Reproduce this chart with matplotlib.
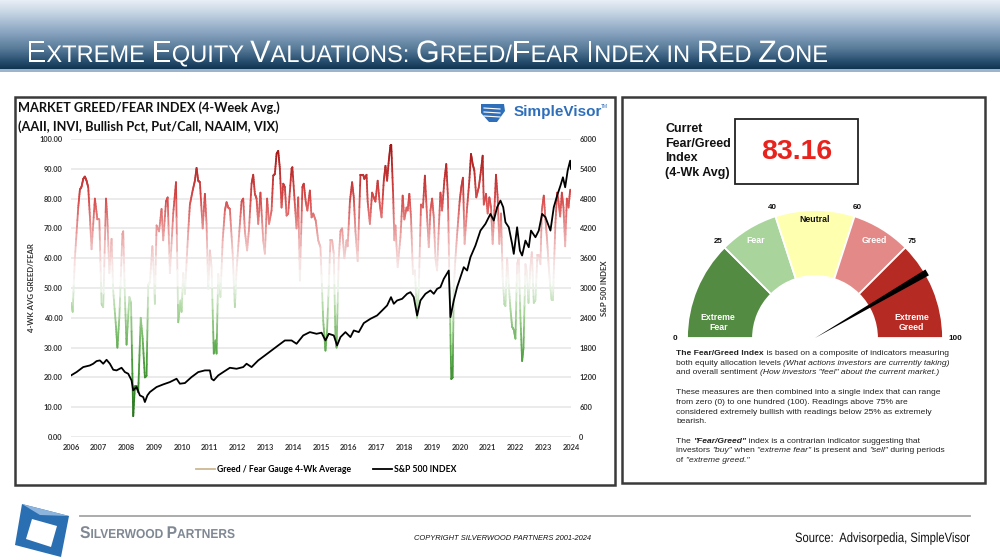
import numpy as np
import matplotlib
matplotlib.use("Agg")
import matplotlib.pyplot as plt
from matplotlib import font_manager
from matplotlib.collections import LineCollection
from matplotlib.colors import LinearSegmentedColormap, to_rgb
from matplotlib.font_manager import FontProperties
from matplotlib.lines import Line2D
from matplotlib.patches import Rectangle, Wedge, Polygon, PathPatch
from matplotlib.textpath import TextPath
from matplotlib.transforms import Affine2D

# ---- data ----
greed_year = [2006.02, 2006.06, 2006.14, 2006.26, 2006.32, 2006.38, 2006.44, 2006.50, 2006.56, 2006.62,
              2006.68, 2006.74, 2006.86, 2006.95, 2007.02, 2007.10, 2007.16, 2007.26, 2007.31, 2007.38,
              2007.46, 2007.52, 2007.62, 2007.67, 2007.74, 2007.85, 2007.88, 2007.94, 2008.00, 2008.10,
              2008.16, 2008.24, 2008.30, 2008.36, 2008.42, 2008.51, 2008.58, 2008.66, 2008.72, 2008.78,
              2008.84, 2008.93, 2008.99, 2009.02, 2009.08, 2009.17, 2009.26, 2009.32, 2009.42, 2009.48,
              2009.56, 2009.68, 2009.78, 2009.86, 2009.94, 2009.98, 2010.04, 2010.10, 2010.22, 2010.28,
              2010.38, 2010.46, 2010.52, 2010.58, 2010.64, 2010.74, 2010.82, 2010.88, 2010.94, 2011.00,
              2011.06, 2011.14, 2011.20, 2011.24, 2011.30, 2011.38, 2011.46, 2011.54, 2011.60, 2011.66,
              2011.72, 2011.82, 2011.90, 2011.96, 2012.06, 2012.14, 2012.20, 2012.26, 2012.34, 2012.41,
              2012.50, 2012.56, 2012.62, 2012.68, 2012.74, 2012.82, 2012.92, 2012.98, 2013.06, 2013.13,
              2013.22, 2013.28, 2013.34, 2013.40, 2013.46, 2013.52, 2013.58, 2013.64, 2013.70, 2013.76,
              2013.82, 2013.94, 2013.97, 2014.06, 2014.12, 2014.18, 2014.24, 2014.33, 2014.38, 2014.45,
              2014.51, 2014.60, 2014.66, 2014.72, 2014.81, 2014.90, 2014.98, 2015.08, 2015.16, 2015.22,
              2015.34, 2015.40, 2015.46, 2015.52, 2015.56, 2015.64, 2015.70, 2015.76, 2015.84, 2015.92,
              2015.96, 2016.04, 2016.12, 2016.18, 2016.24, 2016.32, 2016.42, 2016.52, 2016.56, 2016.64,
              2016.68, 2016.76, 2016.84, 2016.90, 2016.96, 2017.04, 2017.12, 2017.18, 2017.26, 2017.32,
              2017.38, 2017.44, 2017.50, 2017.53, 2017.60, 2017.64, 2017.68, 2017.76, 2017.86, 2017.94,
              2018.00, 2018.08, 2018.12, 2018.18, 2018.24, 2018.31, 2018.38, 2018.46, 2018.52, 2018.60,
              2018.67, 2018.74, 2018.82, 2018.88, 2018.94, 2019.00, 2019.06, 2019.12, 2019.18, 2019.24,
              2019.30, 2019.36, 2019.44, 2019.51, 2019.57, 2019.63, 2019.69, 2019.74, 2019.78, 2019.84,
              2019.90, 2019.99, 2020.05, 2020.11, 2020.17, 2020.26, 2020.34, 2020.40, 2020.46, 2020.52,
              2020.59, 2020.68, 2020.74, 2020.82, 2020.86, 2020.94, 2021.00, 2021.06, 2021.12, 2021.18,
              2021.24, 2021.30, 2021.36, 2021.42, 2021.48, 2021.54, 2021.60, 2021.64, 2021.70, 2021.76,
              2021.82, 2021.88, 2021.94, 2022.00, 2022.06, 2022.12, 2022.18, 2022.24, 2022.29, 2022.36,
              2022.41, 2022.47, 2022.53, 2022.59, 2022.66, 2022.72, 2022.79, 2022.84, 2022.90, 2022.95,
              2023.02, 2023.08, 2023.14, 2023.20, 2023.25, 2023.30, 2023.35, 2023.39, 2023.44, 2023.50,
              2023.55, 2023.61, 2023.67, 2023.73, 2023.79, 2023.85, 2023.91, 2023.97]
greed_value = [45, 42, 60, 77, 83, 84, 86.6, 87.4, 86, 83.8,
               74, 63, 80, 73, 73, 44.7, 43.6, 80, 73, 55,
               66.5, 49, 37, 30, 40, 68, 69, 47, 31, 47,
               45, 7, 17, 17, 15, 40, 33, 20, 20.6, 51,
               52, 64, 53.6, 44.7, 71, 69, 76.5, 66, 79, 80.4,
               55, 75, 85.5, 38.5, 45.8, 42, 55, 48, 69, 78,
               82.7, 86, 90.3, 86, 85.5, 70, 81.6, 71.5, 49.7, 62.6,
               57, 28, 32.4, 28, 54.7, 47, 66, 76, 78.8, 77,
               76.5, 61.5, 43.6, 55.9, 69, 79, 80, 69, 62.6, 70,
               85, 88, 81.6, 80, 71.5, 82, 66, 61.5, 80, 71.5,
               76, 87.7, 88.3, 95, 96, 90, 77, 85, 83.8, 74.3,
               75, 90, 90.5, 78, 70, 80.4, 52.5, 83.8, 85, 79,
               76, 82.7, 73.7, 75, 72.6, 66, 63.7, 39, 29, 36,
               66, 66, 61.5, 33.5, 30, 60, 69, 70, 60, 66,
               64, 79, 85.5, 80.4, 69, 59, 88, 88, 86.6, 88,
               79, 71.5, 82, 80.4, 79, 86, 77.7, 73.7, 86, 91,
               86, 92.7, 97.8, 98, 80.4, 66, 71, 57, 67, 81,
               73, 77, 76, 81.6, 73.7, 54.7, 55.9, 40, 50, 78,
               77, 87.7, 73.7, 63.7, 76, 80, 73.7, 60, 55.9, 70,
               82, 76, 86, 91.6, 80.4, 49, 19.5, 20, 50, 60,
               68, 79, 83.8, 87, 64.8, 77, 86, 95, 91.6, 89.4,
               80.4, 83.8, 88, 94.4, 78, 81.6, 75, 80.4, 77, 64.8,
               76, 88, 80.4, 64.8, 75, 53.6, 44.7, 44, 60, 51,
               43, 37, 36, 33, 58, 60, 40, 25.5, 30, 58,
               55, 45, 56, 62, 45, 46, 61, 61, 58, 76,
               81, 73, 66, 57, 51, 46, 46, 58, 72, 82,
               79, 74, 82, 77, 64, 80, 77, 83]

spx_year = [2006.00, 2006.20, 2006.44, 2006.68, 2006.80, 2006.92, 2007.04, 2007.16, 2007.28, 2007.40,
            2007.52, 2007.64, 2007.82, 2007.94, 2008.06, 2008.18, 2008.24, 2008.36, 2008.48, 2008.60,
            2008.66, 2008.75, 2008.84, 2009.08, 2009.32, 2009.56, 2009.80, 2009.92, 2010.10, 2010.34,
            2010.58, 2010.82, 2011.00, 2011.06, 2011.14, 2011.30, 2011.48, 2011.72, 2011.96, 2012.20,
            2012.32, 2012.50, 2012.74, 2012.98, 2013.22, 2013.46, 2013.70, 2013.94, 2014.12, 2014.36,
            2014.60, 2014.84, 2015.02, 2015.16, 2015.28, 2015.46, 2015.58, 2015.70, 2015.88, 2016.06,
            2016.18, 2016.36, 2016.54, 2016.78, 2017.02, 2017.20, 2017.38, 2017.52, 2017.62, 2017.74,
            2017.92, 2018.10, 2018.22, 2018.34, 2018.46, 2018.58, 2018.76, 2018.94, 2019.06, 2019.18,
            2019.30, 2019.42, 2019.60, 2019.66, 2019.72, 2019.78, 2019.90, 2020.02, 2020.14, 2020.26,
            2020.38, 2020.56, 2020.74, 2020.92, 2021.10, 2021.22, 2021.34, 2021.46, 2021.56, 2021.64,
            2021.76, 2021.88, 2021.94, 2022.06, 2022.16, 2022.24, 2022.36, 2022.48, 2022.56, 2022.72,
            2022.84, 2022.96, 2023.08, 2023.26, 2023.38, 2023.50, 2023.62, 2023.71, 2023.79, 2023.88,
            2023.97, 2024.00]
spx_value = [1240, 1307, 1408, 1441, 1475, 1528, 1542, 1475, 1555, 1475,
             1354, 1341, 1394, 1307, 1274, 1140, 939, 1006, 838, 804,
             704, 838, 905, 1006, 1059, 1106, 1173, 1073, 1086, 1207,
             1307, 1341, 1341, 1173, 1140, 1240, 1307, 1394, 1374, 1408,
             1475, 1408, 1542, 1642, 1743, 1844, 1944, 1944, 1877, 2045,
             2112, 2078, 2100, 1944, 2078, 2045, 1844, 2011, 2112, 2011,
             2145, 2112, 2293, 2380, 2447, 2547, 2648, 2816, 2682, 2749,
             2782, 2883, 2916, 2816, 2447, 2749, 2883, 2950, 2883, 2983,
             3017, 3184, 3352, 2413, 2581, 2749, 3017, 3218, 3419, 3352,
             3620, 3855, 4156, 4291, 4492, 4358, 4626, 4760, 4626, 4324,
             4223, 3888, 3687, 4223, 3754, 3654, 3955, 3821, 4156, 4022,
             4156, 4492, 4425, 4156, 4626, 4860, 5061, 5229, 5028, 5363,
             5564, 5397]

year_ticks = list(range(2006, 2025))
greed_ticks = list(range(0, 101, 10))
spx_ticks = list(range(0, 6001, 600))

gauge_bounds = [0, 25, 40, 60, 75, 100]
gauge_names = ["Extreme\nFear", "Fear", "Neutral", "Greed", "Extreme\nGreed"]
gauge_colors = ["#548b42", "#a9d49b", "#ffffb0", "#e38a88", "#b52a22"]
gauge_text_colors = ["white", "white", "#111111", "white", "white"]
current_value = 83.16

# ---- fonts ----
names = {f.name for f in font_manager.fontManager.ttflist}
ARIAL = "Liberation Sans"
CHART = "Lato" if "Lato" in names else "DejaVu Sans"

fig = plt.figure(figsize=(10, 5.6), dpi=100)
bg = fig.add_axes([0, 0, 1, 1], zorder=0)
bg.axis("off")
rend = fig.canvas.get_renderer()


def text_runs(ax, x, y, runs, **kw):
    # draw text pieces one after another on the same baseline
    for s, props in runs:
        ax.text(x, y, s, **kw, **props)
        p = ax.text(0, 0, "|" + s + "|", **kw, **props)
        q = ax.text(0, 0, "||", **kw, **props)
        x += p.get_window_extent(rend).width - q.get_window_extent(rend).width
        p.remove()
        q.remove()
    return x


def path_width(runs, fp):
    w = 0
    for s, size in runs:
        full = TextPath((0, 0), "|" + s + "|", size=size, prop=fp)
        bar = TextPath((0, 0), "||", size=size, prop=fp)
        w += full.get_extents().width - bar.get_extents().width
    return w


def path_runs(ax, x, y, runs, fp, width, color):
    # condensed text: glyph outlines squeezed to fit the given width
    sx = width / path_width(runs, fp)
    for s, size in runs:
        tp = TextPath((0, 0), s, size=size, prop=fp)
        tr = Affine2D().scale(sx, -1).translate(x, y)
        ax.add_patch(PathPatch(tr.transform_path(tp), fc=color, ec="none", lw=0))
        x += path_width([(s, size)], fp) * sx


# ---- title bar ----
stops = [(0, "#e8eef5"), (12, "#c6d5e4"), (32, "#88a4c0"), (48, "#587b99"), (60, "#2a5071"), (69, "#0d3250")]
rows = np.arange(70)
grad = np.zeros((70, 1, 3))
for c in range(3):
    grad[:, 0, c] = np.interp(rows, [s[0] for s in stops], [to_rgb(s[1])[c] for s in stops])
bg.imshow(grad, extent=[0, 1000, 70, 0], aspect="auto", zorder=0)
bg.add_patch(Rectangle((0, 69), 1000, 3, color="#9db4cc", lw=0, zorder=1))
bg.set_xlim(0, 1000)
bg.set_ylim(560, 0)

title_words = ["EXTREME", "EQUITY", "VALUATIONS:", "GREED/FEAR", "INDEX", "in", "RED", "ZONE"]
BIG, SMALL = 31, 24
runs = []
for i, w in enumerate(title_words):
    tail = " " if i < len(title_words) - 1 else ""
    if w == "in":
        runs.append((w.upper() + tail, SMALL))
    else:
        parts = w.split("/")
        for j, p in enumerate(parts):
            sep = "/" if j < len(parts) - 1 else tail
            runs.append((p[0], BIG))
            runs.append((p[1:] + sep, SMALL))
path_runs(bg, 26, 62, runs, FontProperties(family=ARIAL), 802, "white")

# ---- panels ----
bg.add_patch(Rectangle((15, 97), 600, 388, fill=False, ec="#3a3a3a", lw=1.8))
bg.add_patch(Rectangle((622, 97), 363, 386, fill=False, ec="#3a3a3a", lw=1.8))

bg.text(18, 108, "MARKET GREED/FEAR INDEX (4-Week Avg.)", family=CHART, weight="bold",
        fontsize=9.2, va="center", color="#111111")
bg.text(18, 127, "(AAII, INVI, Bullish Pct, Put/Call, NAAIM, VIX)", family=CHART, weight="bold",
        fontsize=9.2, va="center", color="#111111")

# SimpleVisor logo
bg.add_patch(Polygon([(481, 104), (504, 104), (505, 111), (497, 122), (489, 122), (481, 113)],
                     closed=True, color="#2f6fba", lw=0))
for yy in (108, 112, 116):
    bg.plot([484, 500], [yy, yy + 1], color="white", lw=0.8)
bg.text(514, 112, "SimpleVisor", family=ARIAL, weight="bold", fontsize=11, color="#2f6fba", va="center")
bg.text(601, 106, "TM", family=ARIAL, fontsize=3.5, color="#2f6fba", va="center")

# ---- main chart ----
ax = fig.add_axes([0.071, (560 - 437) / 560, 0.5, (437 - 139) / 560], zorder=2)
ax.patch.set_alpha(0)
cmap = LinearSegmentedColormap.from_list(
    "gf", [(0.0, "#1d6812"), (0.12, "#2f7f24"), (0.28, "#55a645"), (0.42, "#a6d498"),
           (0.52, "#f5f8f4"), (0.58, "#f6e4e4"), (0.68, "#eba4a4"), (0.80, "#d84a4a"), (1.0, "#9e0f0f")])
gx = np.asarray(greed_year)
gy = np.asarray(greed_value)
segs, cols = [], []
for k in range(len(gx) - 1):
    t = np.linspace(0, 1, 9)
    xs = gx[k] + (gx[k + 1] - gx[k]) * t
    ys = gy[k] + (gy[k + 1] - gy[k]) * t
    for m in range(8):
        segs.append([(xs[m], ys[m]), (xs[m + 1], ys[m + 1])])
        cols.append(cmap((ys[m] + ys[m + 1]) / 200))
ax.add_collection(LineCollection(segs, colors=cols, linewidths=1.3, capstyle="round"))
ax.set_xlim(2006, 2024)
ax.set_ylim(0, 100)
ax.set_xticks(year_ticks)
ax.set_yticks(greed_ticks)
ax.set_yticklabels([f"{v:.2f}" for v in greed_ticks])
ax.grid(axis="y", color="#e9e9e9", lw=1.3)
ax.set_axisbelow(True)
for s in ax.spines.values():
    s.set_visible(False)
ax.tick_params(length=0, labelsize=5.4, colors="#333333", pad=6)
ax.tick_params(axis="x", pad=5)
ax.set_ylabel("4-WK AVG GREED/FEAR", family=CHART, weight="bold", fontsize=5.6, color="#333333", labelpad=3)

ax2 = ax.twinx()
ax2.plot(spx_year, spx_value, color="black", lw=1.3)
ax2.set_ylim(0, 6000)
ax2.set_yticks(spx_ticks)
for s in ax2.spines.values():
    s.set_visible(False)
ax2.tick_params(length=0, labelsize=5.4, colors="#333333", pad=6)
ax2.set_ylabel("S&P 500 INDEX", family=CHART, weight="bold", fontsize=5.6, color="#333333",
               rotation=90, labelpad=3)
for lab in ax.get_xticklabels() + ax.get_yticklabels() + ax2.get_yticklabels():
    lab.set_family(CHART)
    lab.set_weight("bold")

handles = [Line2D([], [], color="#cdb892", lw=1.3), Line2D([], [], color="black", lw=1.3)]
fig.legend(handles, ["Greed / Fear Gauge 4-Wk Average", "S&P 500 INDEX"], loc="center",
           bbox_to_anchor=(0.326, (560 - 470) / 560), ncol=2, frameon=False,
           prop=dict(family=CHART, weight="bold", size=6.2), handlelength=2.2,
           handletextpad=0.2, columnspacing=2.6)

# ---- right panel ----
bg.text(665, 151, "Curret\nFear/Greed\nIndex\n(4-Wk Avg)", family=ARIAL, weight="bold", fontsize=9,
        va="center", ha="left", linespacing=1.3, color="#111111")
bg.add_patch(Rectangle((735, 119), 123, 65, fill=False, ec="#222222", lw=1.3))
bg.text(796.5, 152, f"{current_value:.2f}", family=ARIAL, weight="bold", fontsize=20.5,
        color="#e8231d", ha="center", va="center")

gax = fig.add_axes([660 / 1000, (560 - 345) / 560, 320 / 1000, 150 / 560], zorder=3)
gax.set_xlim(-155, 165)
gax.set_ylim(-7, 143)
gax.axis("off")
R, W = 128, 66
for i in range(len(gauge_names)):
    a1 = 180 - gauge_bounds[i + 1] * 1.8
    a2 = 180 - gauge_bounds[i] * 1.8
    gax.add_patch(Wedge((0, 0), R, a1, a2, width=W, fc=gauge_colors[i], ec="white", lw=1.3))
label_at = [5, 32.5, 50, 67.5, 95]
label_r = [98, 114, 118, 114, 98]
for i, name in enumerate(gauge_names):
    a = np.radians(180 - label_at[i] * 1.8)
    gax.text(label_r[i] * np.cos(a), label_r[i] * np.sin(a), name, ha="center", va="center",
             family=ARIAL, weight="bold", fontsize=6.3, color=gauge_text_colors[i], linespacing=1.15)
for b in gauge_bounds:
    a = np.radians(180 - b * 1.8)
    rr = 140 if b in (0, 100) else 137
    gax.text(rr * np.cos(a), rr * np.sin(a), str(b), ha="center", va="center",
             family=ARIAL, weight="bold", fontsize=5.8, color="#111111")
na = 180 - current_value * 1.8
tip = []
for d in (1.5, -1.5):
    a = np.radians(na + d)
    tip.append((130 * np.cos(a), 130 * np.sin(a)))
gax.add_patch(Polygon([(0, 0), tip[0], tip[1]], closed=True, color="black", lw=0))

desc = [
    [("The Fear/Greed Index", "b"), (" is based on a composite of indicators measuring", "n")],
    [("both equity allocation levels ", "n"), ("(What actions investors are currently taking)", "i")],
    [("and overall sentiment ", "n"), ('(How investors "feel" about the current market.)', "i")],
    None,
    [("These measures are then combined into a single index that can range", "n")],
    [("from zero (0) to one hundred (100). Readings above 75% are", "n")],
    [("considered extremely bullish with readings below 25% as extremely", "n")],
    [("bearish.", "n")],
    None,
    [("The ", "n"), ('"Fear/Greed"', "bi"), (" index is a contrarian indicator suggesting that", "n")],
    [("investors ", "n"), ('"buy"', "i"), (" when ", "n"), ('"extreme fear"', "i"),
     (" is present and ", "n"), ('"sell"', "i"), (" during periods", "n")],
    [("of ", "n"), ('"extreme greed."', "i")],
]
styles = {"n": dict(), "b": dict(weight="bold"), "i": dict(style="italic"),
          "bi": dict(weight="bold", style="italic")}
for k, line in enumerate(desc):
    if line is None:
        continue
    text_runs(bg, 676, 355 + 9.75 * k, [(s, styles[st]) for s, st in line],
              family=ARIAL, fontsize=6.1, color="#222222", va="baseline")

# ---- footer ----
bg.plot([80, 970], [516, 516], color="#a5a5a5", lw=1.3)
bg.add_patch(Polygon([(22, 504), (69, 516), (61, 557), (15, 545)], closed=True, color="#2b6fb3", lw=0))
bg.add_patch(Polygon([(22, 504), (69, 516), (40, 515)], closed=True, color="#8db4dc", lw=0))
bg.add_patch(Polygon([(32, 519), (57, 526), (51, 547), (26, 539)], closed=True, color="white", lw=0))
foot = [("S", 17), ("ILVERWOOD ", 13), ("P", 17), ("ARTNERS", 13)]
path_runs(bg, 80, 538, foot, FontProperties(family=ARIAL, weight="bold"), 155, "#7f8893")
bg.text(502, 540, "COPYRIGHT SILVERWOOD PARTNERS 2001-2024", family=ARIAL, style="italic",
        fontsize=5.4, ha="center", va="baseline", color="#111111")
src = [("Source:  Advisorpedia, SimpleVisor", 13.5)]
path_runs(bg, 795, 542, src, FontProperties(family=ARIAL), 175, "#111111")

fig.savefig("out.png", dpi=100)
